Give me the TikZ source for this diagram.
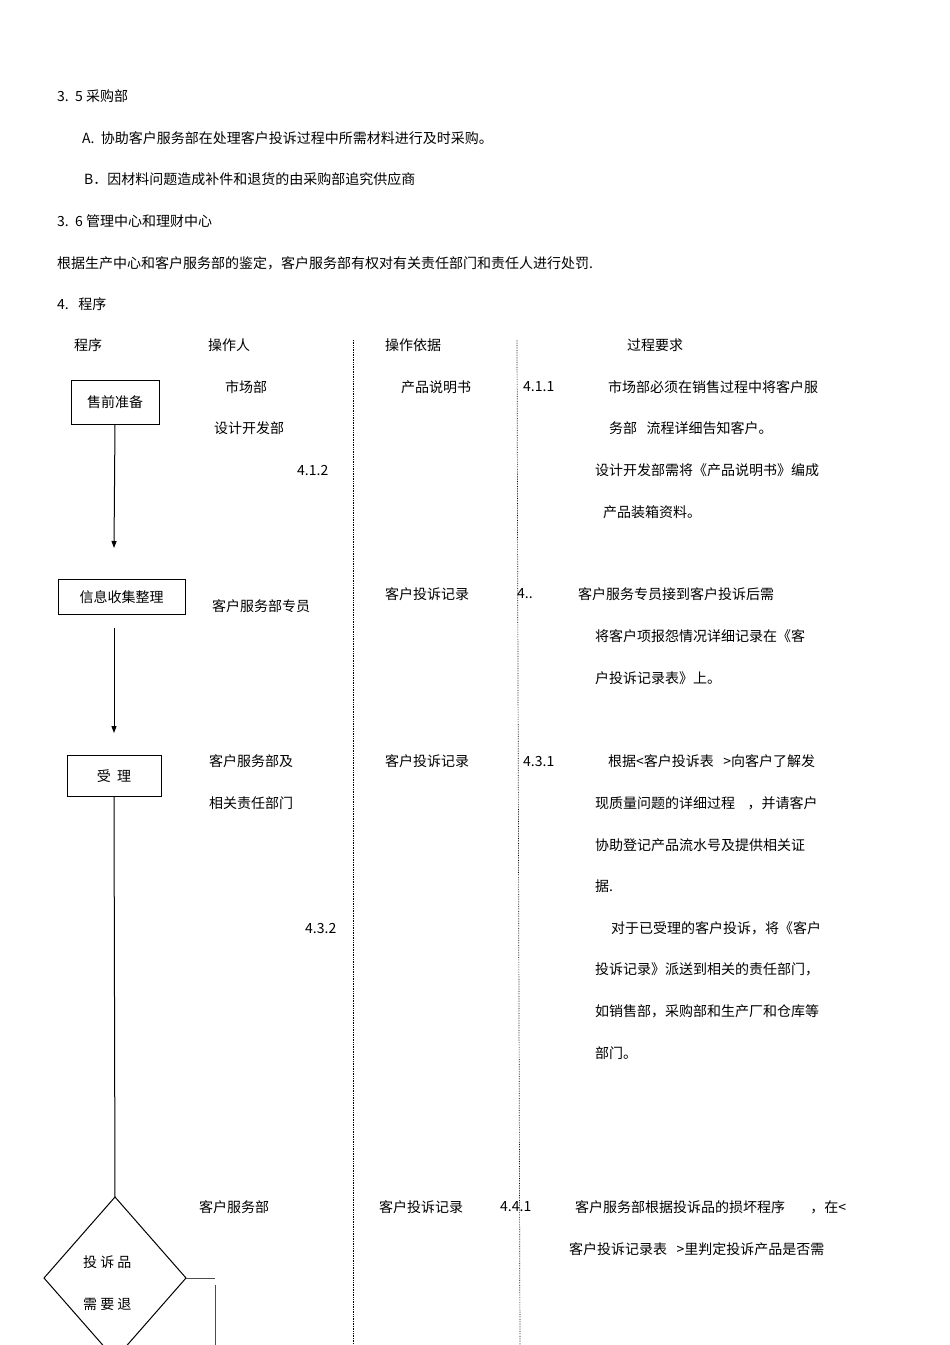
\documentclass[tikz,border=0pt]{standalone}
\usepackage{fontspec}
\setmainfont{Noto Sans CJK SC}
\usetikzlibrary{arrows.meta}
\begin{document}
\begin{tikzpicture}[x=1pt,y=-1pt,
  t/.style={anchor=west,inner sep=0pt,font=\fontsize{14}{16}\selectfont},
  bx/.style={draw,line width=0.9pt,minimum height=#1,inner sep=0pt}]
\useasboundingbox (0,0) rectangle (950,1345);
\clip (0,0) rectangle (950,1345);
\node[t] (a1) at (57,96) {3.\ \ 5 采购部};
\node[t] (a2) at (82,138) {A.\ \ 协助客户服务部在处理客户投诉过程中所需材料进行及时采购。};
\node[t] (a3) at (84,179) {B．因材料问题造成补件和退货的由采购部追究供应商};
\node[t] (a4) at (57,221) {3.\ \ 6 管理中心和理财中心};
\node[t] (a5) at (57,263) {根据生产中心和客户服务部的鉴定，客户服务部有权对有关责任部门和责任人进行处罚.};
\node[t] (a6) at (57,304) {4.\ \ \ 程序};
\node[t] (h1) at (74,345) {程序};
\node[t] (h2) at (208,345) {操作人};
\node[t] (h3) at (385,345) {操作依据};
\node[t] (h4) at (627,345) {过程要求};
\coordinate (d1t) at (353,340); \coordinate (d1b) at (353,1345);
\coordinate (d2t) at (517,340); \coordinate (d2b) at (520,1345);
\draw[densely dotted,line width=0.7pt] (d1t) -- (d1b);
\draw[densely dotted,line width=0.7pt] (d2t) -- (d2b);
% boxes
\node[bx=44pt,minimum width=88pt,t,anchor=center] (b1) at (115,402) {售前准备};
\node[bx=35pt,minimum width=127pt,t,anchor=center] (b2) at (121.5,597) {信息收集整理};
\node[bx=41pt,minimum width=94pt,t,anchor=center] (b3) at (114,776) {受\ \ 理};
\coordinate (e1) at (114,548);
\coordinate (s2) at (114,628); \coordinate (e2) at (114,733);
\draw[line width=1pt,-{Triangle[length=7pt,width=5pt]}] (b1.south) -- (e1);
\draw[line width=1pt,-{Triangle[length=7pt,width=5pt]}] (s2) -- (e2);
\coordinate (dt) at (115,1197); \coordinate (dl) at (44,1278); \coordinate (dr) at (186,1278); \coordinate (db) at (115,1359);
\draw[line width=1pt] (b3.south) -- (dt);
\draw[line width=1pt] (dt) -- (dr) -- (db) -- (dl) -- cycle;
\node[t] (dtx1) at (83,1262) {投\ 诉\ 品};
\node[t] (dtx2) at (83,1304) {需\ 要\ 退};
\coordinate (r1) at (215,1278); \coordinate (r2) at (215,1285); \coordinate (r3) at (215,1345);
\draw[line width=1pt,gray!60!black] (dr) -- (r1);
\draw[line width=1pt,gray!60!black] (r2) -- (r3);
% row 1
\node[t] (p1) at (225,387) {市场部};
\node[t] (p2) at (214,428) {设计开发部};
\node[t] (n412) at (297,470) {4.1.2};
\node[t] (q1) at (401,387) {产品说明书};
\node[t] (n411) at (523,387) {4.1.1};
\node[t] (r11) at (608,387) {市场部必须在销售过程中将客户服};
\node[t] (r12) at (609,428) {务部\ \ \ 流程详细告知客户。};
\node[t] (r13) at (595,470) {设计开发部需将《产品说明书》编成};
\node[t] (r14) at (603,512) {产品装箱资料。};
% row 2
\node[t] (p3) at (212,606) {客户服务部专员};
\node[t] (q2) at (385,594) {客户投诉记录};
\node[t] (n42) at (517,594) {4..};
\node[t] (r21) at (578,594) {客户服务专员接到客户投诉后需};
\node[t] (r22) at (595,636) {将客户项报怨情况详细记录在《客};
\node[t] (r23) at (595,678) {户投诉记录表》上。};
% row 3
\node[t] (p4) at (209,761) {客户服务部及};
\node[t] (p5) at (209,803) {相关责任部门};
\node[t] (q3) at (385,761) {客户投诉记录};
\node[t] (n431) at (523,761) {4.3.1};
\node[t] (r31) at (608,761) {根据<客户投诉表\ \ \ >向客户了解发};
\node[t] (r32) at (595,803) {现质量问题的详细过程\ \ \ \ ，并请客户};
\node[t] (r33) at (595,845) {协助登记产品流水号及提供相关证};
\node[t] (r34) at (595,886) {据.};
\node[t] (n432) at (305,928) {4.3.2};
\node[t] (r35) at (611,928) {对于已受理的客户投诉，将《客户};
\node[t] (r36) at (595,969) {投诉记录》派送到相关的责任部门，};
\node[t] (r37) at (595,1011) {如销售部，采购部和生产厂和仓库等};
\node[t] (r38) at (595,1053) {部门。};
% row 4
\node[t] (p6) at (199,1207) {客户服务部};
\node[t] (q4) at (379,1207) {客户投诉记录};
\node[t] (n441) at (500,1207) {4.4.1};
\node[t] (r41) at (575,1207) {客户服务部根据投诉品的损坏程序\ \ \ \ \ \ \ \ ，在<};
\node[t] (r42) at (569,1249) {客户投诉记录表\ \ \ >里判定投诉产品是否需};
\end{tikzpicture}
\end{document}
